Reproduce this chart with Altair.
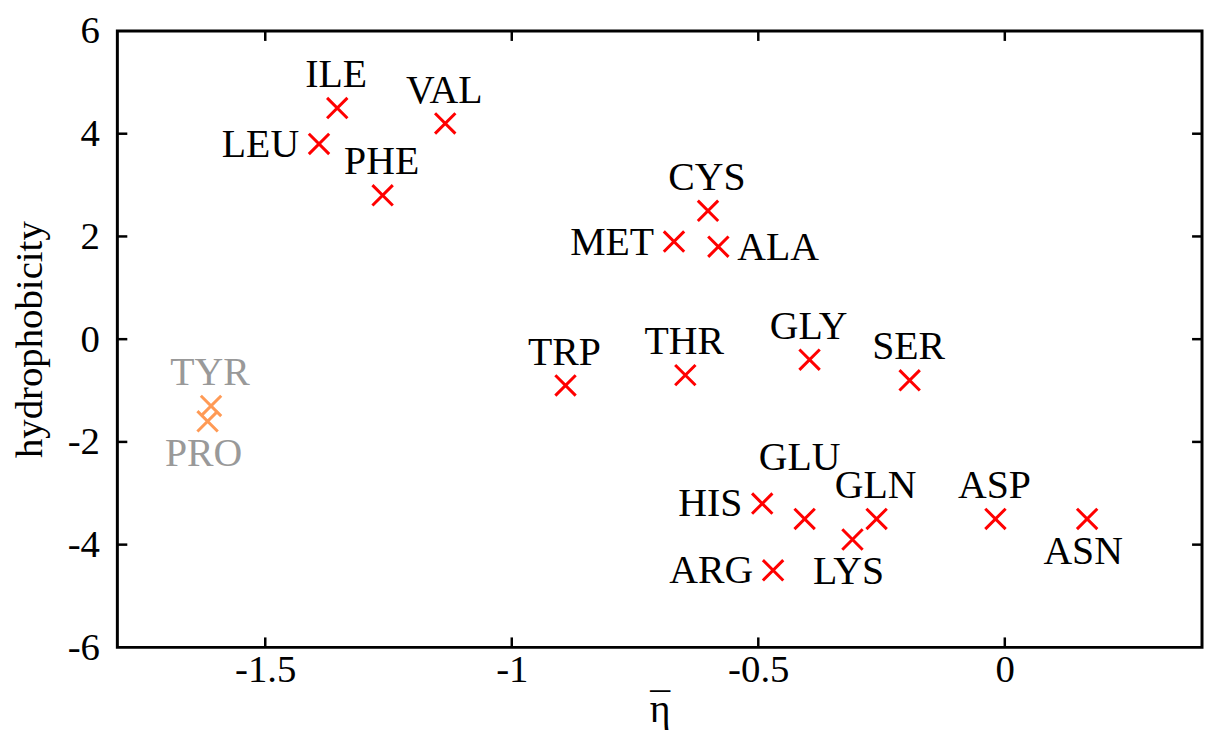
import altair as alt
import pandas as pd

# ---- data ----
names = ["ILE", "VAL", "LEU", "PHE", "CYS", "MET", "ALA", "GLY", "THR", "SER",
         "TRP", "TYR", "PRO", "HIS", "GLU", "GLN", "ASP", "ASN", "LYS", "ARG"]
eta = [-1.354, -1.135, -1.391, -1.262, -0.602, -0.671, -0.581, -0.396, -0.648, -0.193,
       -0.891, -1.610, -1.617, -0.492, -0.406, -0.260, -0.019, 0.167, -0.309, -0.470]
hydro = [4.5, 4.2, 3.8, 2.8, 2.5, 1.9, 1.8, -0.4, -0.7, -0.8,
         -0.9, -1.3, -1.6, -3.2, -3.5, -3.5, -3.5, -3.5, -3.9, -4.5]
faded = ["TYR", "PRO"]

x_ticks = [-1.5, -1, -0.5, 0]
y_ticks = [-6, -4, -2, 0, 2, 4, 6]
y_minor = [-4, -2, 0, 2, 4]

# label placement groups
lab_top = ["ILE", "VAL", "PHE", "CYS", "GLY", "THR", "SER", "TRP", "TYR", "GLN", "ASP"]
lab_high = ["GLU"]
lab_left = ["LEU", "MET", "HIS", "ARG"]
lab_right = ["ALA"]
lab_bottom = ["LYS", "ASN", "PRO"]

df = pd.DataFrame({"name": names, "eta": eta, "hydro": hydro})
df["group"] = ["faded" if n in faded else "main" for n in names]

W, H = 1091, 620
FONT = "Liberation Serif"
FS = 40
TFS = 39

xscale = alt.Scale(domain=[-1.8, 0.4], nice=False, zero=False)
yscale = alt.Scale(domain=[-6, 6], nice=False, zero=False)

# eta with an overline: macron line drawn over the eta on the same baseline
x_title = ["\u00af", "\u03b7"]

xenc = alt.X("eta:Q", scale=xscale,
             axis=alt.Axis(values=x_ticks, labelExpr="toString(datum.value)",
                           title=x_title, grid=False, ticks=False, tickSize=0,
                           domain=False, labelFontSize=TFS, labelFont=FONT,
                           labelBaseline="alphabetic", labelPadding=34,
                           labelColor="black",
                           titleFontSize=FS, titleFont=FONT, titleFontWeight="normal",
                           titleLineHeight=1,
                           titleX=W / 2, titleY=74, titleBaseline="alphabetic",
                           titleAlign="center", titleColor="black"))
yenc = alt.Y("hydro:Q", scale=yscale,
             axis=alt.Axis(values=y_ticks, labelExpr="toString(datum.value)",
                           title="hydrophobicity", grid=False, ticks=False, tickSize=0,
                           domain=False, labelFontSize=TFS, labelFont=FONT,
                           labelPadding=18, labelColor="black",
                           titleFontSize=TFS, titleFont=FONT, titleFontWeight="normal",
                           titleAngle=-90, titleX=-76, titleY=H / 2,
                           titleBaseline="alphabetic", titleAlign="center",
                           titleColor="black"))

base = alt.Chart(df)

XPATH = "M-1,-1L1,1M-1,1L1,-1"
points = base.mark_point(shape=XPATH, filled=False, size=420, strokeWidth=3,
                         opacity=1).encode(
    x=xenc, y=yenc,
    stroke=alt.condition("datum.group == 'faded'", alt.value("#ff9a55"), alt.value("#ff0000")),
)

txtcolor = alt.condition("datum.group == 'faded'", alt.value("#999999"), alt.value("black"))


def labels(group, align, dx, dy):
    return base.transform_filter(
        alt.FieldOneOfPredicate(field="name", oneOf=group)
    ).mark_text(align=align, baseline="alphabetic", dx=dx, dy=dy,
                fontSize=FS, font=FONT).encode(
        x=alt.X("eta:Q", scale=xscale), y=alt.Y("hydro:Q", scale=yscale),
        text="name:N", color=txtcolor)


t_top = labels(lab_top, "center", -1, -21)
t_high = labels(lab_high, "center", -5, -49)
t_left = labels(lab_left, "right", -20, 13)
t_right = labels(lab_right, "left", 19, 13)
t_bottom = labels(lab_bottom, "center", -4, 45)

xt = pd.DataFrame({"v": x_ticks})
yt = pd.DataFrame({"v": y_minor})
tick_style = dict(color="black", strokeWidth=2.5)
xs = alt.X("v:Q", scale=xscale)
ys = alt.Y("v:Q", scale=yscale)
tb = alt.Chart(xt).mark_rule(**tick_style).encode(x=xs, y=alt.value(H), y2=alt.value(H - 10))
tt = alt.Chart(xt).mark_rule(**tick_style).encode(x=xs, y=alt.value(0), y2=alt.value(10))
tl = alt.Chart(yt).mark_rule(**tick_style).encode(y=ys, x=alt.value(0), x2=alt.value(10))
tr = alt.Chart(yt).mark_rule(**tick_style).encode(y=ys, x=alt.value(W), x2=alt.value(W - 10))

chart = alt.layer(tb, tt, tl, tr, points, t_top, t_high, t_left, t_right, t_bottom).properties(
    width=W, height=H,
    autosize=alt.AutoSizeParams(type="none"),
    padding={"left": 110, "top": 21, "right": 2, "bottom": 81},
    background="white",
).configure(font=FONT).configure_view(stroke="black", strokeWidth=3)

chart.save("out.html", embed_options={"renderer": "svg", "actions": False})
